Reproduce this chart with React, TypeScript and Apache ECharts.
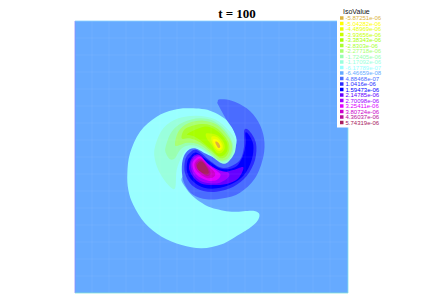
import React, { useEffect, useRef } from "react";
import * as echarts from "echarts";

const chartTitle = "t = 100";
const legendTitle = "IsoValue";
const legendOrder = ["-5.87251e-06","-5.04282e-06","-4.48969e-06","-3.93656e-06","-3.38343e-06","-2.8303e-06","-2.27718e-06","-1.72405e-06","-1.17092e-06","-6.17789e-07","-6.46659e-08","4.88468e-07","1.0416e-06","1.59473e-06","2.14785e-06","2.70098e-06","3.25411e-06","3.80724e-06","4.36037e-06","5.74319e-06"];
const levelColors = ["#dcb43c","#ffff00","#e8ff00","#c8ff00","#a8ff00","#a8ff30","#a8ff70","#99ffb0","#99ffdd","#99ffff","#66aaff","#4a6cff","#2a2aff","#0000ff","#6600ff","#a000ff","#e000ff","#cc00cc","#b8109a","#a82060"];

// Contour outlines in field units
const domainX = [-75, 744];
const domainY = [-207, 609];
const cBackground = [[-75,-207],[744,-207],[744,609],[-75,609]];
const cN0618 = [[265,55],[330,62],[385,95],[408,140],[412,175],[395,215],[345,240],[280,240],[245,265],[258,295],[277,317],[300,335],[335,353],[395,365],[455,362],[475,368],[478,380],[468,398],[440,420],[415,435],[365,463],[305,475],[245,465],[185,440],[135,400],[100,345],[85,300],[82,250],[90,190],[120,125],[170,80],[220,60]];
const cN117 = [[165,170],[190,115],[235,85],[290,77],[345,88],[385,120],[405,150],[405,185],[385,215],[365,220],[330,195],[295,175],[262,178],[245,200],[230,240],[225,295],[205,285],[180,250],[165,210]];
const cN172 = [[197,170],[215,125],[250,97],[300,85],[345,95],[382,128],[400,170],[388,207],[360,214],[330,192],[295,170],[262,167],[240,180],[225,205],[210,208],[198,190]];
const cN228 = [[225,165],[235,125],[265,100],[310,92],[352,105],[388,145],[396,175],[384,205],[358,210],[330,187],[295,163],[262,158],[240,165]];
const cN283 = [[245,145],[258,115],[310,102],[350,115],[382,150],[388,178],[377,200],[358,203],[330,180],[300,157],[270,145]];
const cN338 = [[262,132],[312,110],[350,122],[378,152],[383,178],[372,195],[355,198],[330,175],[303,152],[280,138]];
const cN394 = [[320,130],[350,135],[370,155],[374,175],[365,188],[350,188],[335,165],[320,145]];
const cN449 = [[335,140],[352,142],[366,160],[368,175],[358,183],[347,177],[337,160]];
const cN504 = [[340,148],[353,150],[364,165],[362,177],[352,176],[342,162]];
const cN587 = [[346,155],[355,158],[361,170],[355,174],[349,165]];
const cP049 = [[360,28],[395,32],[440,55],[475,95],[492,145],[490,200],[465,265],[420,308],[370,325],[320,328],[280,315],[255,285],[246,250],[248,210],[262,183],[285,175],[325,195],[370,210],[400,185],[410,150],[400,120],[380,90],[355,45],[353,35]];
const cP104 = [[433,120],[450,125],[468,160],[465,210],[440,258],[400,290],[350,305],[310,303],[275,285],[255,250],[255,212],[268,190],[290,180],[330,212],[360,232],[390,230],[420,210],[432,170]];
const cP159 = [[436,128],[447,135],[460,165],[455,210],[432,255],[395,282],[350,295],[312,293],[282,277],[262,248],[262,215],[273,197],[290,188],[325,212],[365,236],[405,232],[428,200],[437,160]];
const cP215 = [[430,232],[415,265],[380,282],[340,285],[310,283],[285,268],[268,240],[270,215],[282,197],[300,195],[325,222],[365,245],[400,240]];
const cP270 = [[272,222],[283,202],[300,197],[325,222],[355,240],[385,248],[385,262],[360,278],[330,280],[300,272],[280,252]];
const cP325 = [[277,222],[288,205],[303,202],[325,225],[350,242],[362,255],[350,270],[325,272],[300,262],[283,245]];
const cP381 = [[283,222],[292,209],[305,207],[325,228],[345,248],[340,262],[320,264],[300,252],[287,238]];
const cP436 = [[288,222],[297,212],[307,212],[322,230],[332,250],[322,258],[305,248],[292,235]];
const cP574 = [[291,226],[300,215],[310,218],[322,235],[326,250],[315,253],[300,244],[293,236]];

const layers: [number, number[][]][] = [[10,cBackground],[9,cN0618],[11,cP049],[12,cP104],[13,cP159],[14,cP215],[15,cP270],[16,cP325],[17,cP381],[18,cP436],[19,cP574],[8,cN117],[7,cN172],[6,cN228],[5,cN283],[4,cN338],[3,cN394],[2,cN449],[1,cN504],[0,cN587]];
const meshLinesX = [-24,27,78,129,180,231,282,333,384,435,486,537,588,639,690];
const meshLinesY = [-156,-105,-54,-3,48,99,150,201,252,303,354,405,456,507,558];

function closedSpline(points: number[][]): string {
  const n = points.length;
  let d = `M${points[0][0]} ${points[0][1]}`;
  for (let i = 0; i < n; i++) {
    const p0 = points[(i - 1 + n) % n], p1 = points[i], p2 = points[(i + 1) % n], p3 = points[(i + 2) % n];
    const c1 = [p1[0] + (p2[0] - p0[0]) / 6, p1[1] + (p2[1] - p0[1]) / 6];
    const c2 = [p2[0] - (p3[0] - p1[0]) / 6, p2[1] - (p3[1] - p1[1]) / 6];
    d += `C${c1[0]} ${c1[1]} ${c2[0]} ${c2[1]} ${p2[0]} ${p2[1]}`;
  }
  return d + "Z";
}

export default function App() {
  const ref = useRef<HTMLDivElement>(null);
  useEffect(() => {
    document.body.style.margin = "0";
    const chart = echarts.init(ref.current!, null, { renderer: "svg" });
    const polygonSeries = layers.map(([idx, pts]) => ({
      type: "custom", name: legendOrder[idx], coordinateSystem: "cartesian2d",
      itemStyle: { color: levelColors[idx] }, data: [[pts[0][0], pts[0][1]]], silent: true,
      renderItem: (_: any, api: any) => {
        const c = pts.map((p) => api.coord(p));
        if (idx === 10) return { type: "polygon", shape: { points: c }, style: { fill: levelColors[idx] } };
        return { type: "path", shape: { pathData: closedSpline(c) }, style: { fill: levelColors[idx] } };
      },
    }));
    const edge = (p: number[], q: number[], stroke: string, api: any) => {
      const a = api.coord(p), b = api.coord(q);
      return { type: "line", shape: { x1: a[0], y1: a[1], x2: b[0], y2: b[1] }, style: { stroke, lineWidth: 1 } };
    };
    const meshSeries = {
      type: "custom", coordinateSystem: "cartesian2d", silent: true, data: [[0, 0]], clip: false,
      renderItem: (_: any, api: any) => ({
        type: "group",
        children: [
          ...meshLinesX.map((x) => edge([x, domainY[0]], [x, domainY[1]], "rgba(255,255,255,0.06)", api)),
          ...meshLinesY.map((y) => edge([domainX[0], y], [domainX[1], y], "rgba(255,255,255,0.06)", api)),
          edge([domainX[0], domainY[0]], [domainX[0], domainY[1]], "rgba(140,140,255,0.8)", api),
          edge([domainX[0], domainY[0]], [domainX[1], domainY[0]], "rgba(140,210,255,0.8)", api),
          edge([domainX[1], domainY[0]], [domainX[1], domainY[1]], "rgba(130,225,235,0.8)", api),
          edge([domainX[0], domainY[1]], [domainX[1], domainY[1]], "rgba(130,225,215,0.8)", api),
        ],
      }),
    };
    chart.setOption({
      animation: false,
      backgroundColor: "#fff",
      title: [
        { text: chartTitle, left: 232, textAlign: "center", top: 2, textStyle: { fontFamily: "Liberation Serif", fontWeight: "bold", fontSize: 13, color: "#000" } },
        { text: legendTitle, left: 343, top: 8, padding: 0, textStyle: { fontFamily: "Liberation Sans", fontWeight: "normal", fontSize: 7, color: "#111" } },
      ],
      grid: { left: 75, top: 21, width: 273, height: 272, containLabel: false },
      xAxis: { type: "value", min: domainX[0], max: domainX[1], show: false },
      yAxis: { type: "value", min: domainY[0], max: domainY[1], inverse: true, show: false },
      legend: {
        left: 337, top: 15, orient: "vertical", padding: [0, 0, 2, 3], backgroundColor: "#fff",
        itemWidth: 3.5, itemHeight: 3.5, itemGap: -0.5, icon: "rect", selectedMode: false,
        z: 10,
        data: legendOrder.map((name, i) => ({ name, textStyle: { color: levelColors[i] } })),
        textStyle: { fontFamily: "Liberation Sans", fontSize: 6, padding: [0, 0, 0, -3] },
      },
      series: [...polygonSeries, meshSeries],
    });
    return () => chart.dispose();
  }, []);
  return <div ref={ref} style={{ width: 423, height: 299 }} />;
}
